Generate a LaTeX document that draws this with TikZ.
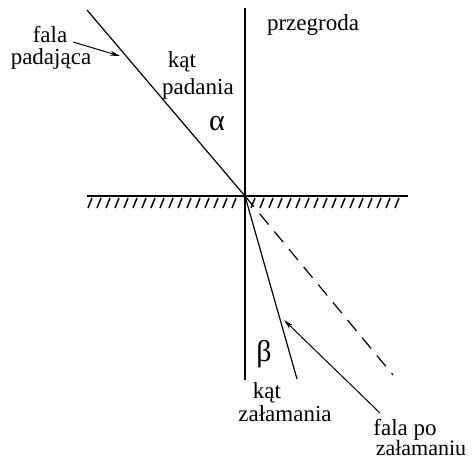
\documentclass[tikz,border=0pt]{standalone}
\usepackage{fontspec}
\setmainfont{Liberation Serif}[Ligatures=TeX]
\newfontfamily\timesfont{Liberation Serif}
\usetikzlibrary{arrows.meta}
\begin{document}
\begin{tikzpicture}[x=1pt,y=-1pt,
  lbl/.style={font=\timesfont\fontsize{23}{24}\selectfont, inner sep=0pt, anchor=base},
  greek/.style={font=\timesfont\fontsize{30}{30}\selectfont, inner sep=0pt, anchor=base},
  ray/.style={line width=1.2pt},
  wall/.style={line width=2.2pt},
  ptr/.style={line width=1pt,-{Stealth[length=10pt,width=5pt]}},
  hatch/.style={line width=1.4pt}]
\useasboundingbox (0,0) rectangle (472,461);
% points
\coordinate (O) at (245,196);
\coordinate (Vt) at (245,8);
\coordinate (Vb) at (245,380);
\coordinate (Hl) at (87,196);
\coordinate (Hr) at (408,196);
\coordinate (In) at (87,10);
\coordinate (Ds) at (393,375);
\coordinate (Rf) at (297,379);
\coordinate (P1s) at (73,42);
\coordinate (P1e) at (120,56);
\coordinate (P2s) at (380,413);
\coordinate (P2e) at (284,320);
% barrier and surface
\draw[wall] (Vt) -- (Vb);
\draw[line width=2.6pt] (Hl) -- (Hr);
\foreach \x in {92,101,...,240} {\draw[hatch] (\x,198) -- (\x-4,208);}
\foreach \x in {255,264,...,406} {\draw[hatch] (\x,198) -- (\x-4,208);}
% rays
\draw[ray] (In) -- (O);
\draw[ray, dashed, dash pattern=on 14pt off 9pt] (O) -- (Ds);
\draw[ray] (O) -- (Rf);
% pointers
\draw[ptr] (P1s) -- (P1e);
\draw[ptr] (P2s) -- (P2e);
% labels
\node[lbl] (fala1) at (50,42) {fala};
\node[lbl] (fala2) at (51,64) {padająca};
\node[lbl] (kat1) at (182,67) {kąt};
\node[lbl] (kat2) at (198,94) {padania};
\node[greek] (alpha) at (217,130) {α};
\node[lbl] (prz) at (313,30) {przegroda};
\node[greek] (beta) at (264,361) {β};
\node[lbl] (kat3) at (267,398) {kąt};
\node[lbl] (kat4) at (285,421) {załamania};
\node[lbl] (fp1) at (405,435) {fala po};
\node[lbl, font=\timesfont\fontsize{22}{24}\selectfont] (fp2) at (421,455) {załamaniu};
\end{tikzpicture}
\end{document}
